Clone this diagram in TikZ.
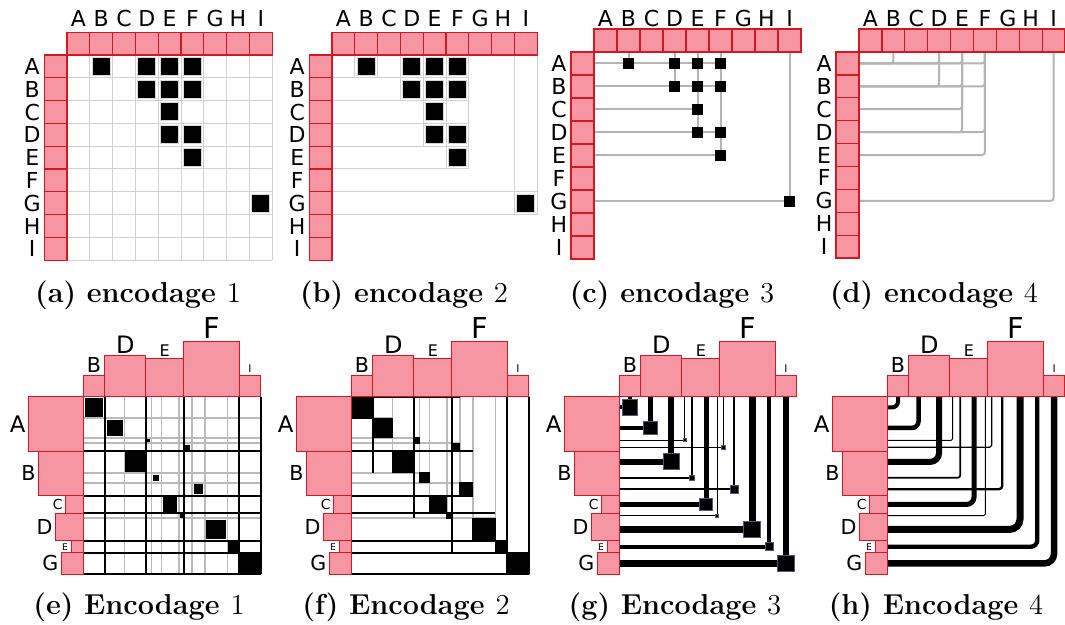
\documentclass[tikz,border=0pt]{standalone}
\usepackage{fontspec}
\newfontfamily\lettersf{DejaVu Sans}

\definecolor{boxfill}{RGB}{246,150,163}
\definecolor{boxline}{RGB}{210,25,35}
\definecolor{lightgrid}{RGB}{208,208,208}
\definecolor{linkgray}{RGB}{180,180,180}
\definecolor{navyedge}{RGB}{85,85,120}

\tikzset{
  pinkbox/.style={fill=boxfill, draw=boxline, line width=0.65pt},
  gridline/.style={draw=lightgrid, line width=0.5pt},
  linkline/.style={draw=linkgray, line width=1pt},
  cellsq/.style={fill=black, draw=black!15, line width=0.5pt},
  subline/.style={draw=black!27, line width=0.8pt},
  blockline/.style={draw=black, line width=0.95pt},
  navysq/.style={fill=black, draw=navyedge, line width=0.5pt},
  toplabel/.style={font=\lettersf\fontsize{11}{13}\selectfont, inner sep=0pt},
  sizelabel/.style={inner sep=0pt},
  caption/.style={font=\fontsize{14.4}{17}\selectfont\bfseries}
}

% links of the 9x9 matrix (row/column)
\def\toplinks{1/2,1/4,1/5,1/6,2/4,2/5,2/6,3/5,4/5,4/6,5/6,7/9}
% links of the weighted matrix: row offset/column offset/weight/width/square
\def\botlinks{0/0/21.5/2pt/15.7, 21.5/21.5/19.5/2.25pt/13.3, 41/62.5/5.5/0.5pt/3,
  46.5/100.5/8/0.65pt/4, 54.5/41/21.5/3pt/16, 76/68/10/0.85pt/5, 86/108.5/13/1.15pt/8,
  99/78/17.5/2.5pt/12.3, 116.5/95.5/5/0.5pt/3, 121.5/121.5/22.5/3.5pt/16.3,
  144/144/12/2.15pt/8.3, 156/156/21.5/3.25pt/16.7}

% pink boxes and letters of one 9x9 panel: name, cell, baseline of the letters
\newcommand{\topframe}[3]{%
  \foreach \l [count=\n] in {A,B,C,D,E,F,G,H,I} {
    \draw[pinkbox] ({(\n-1)*#2},{-#2}) rectangle ({\n*#2},0);
    \draw[pinkbox] ({-#2},{(\n-1)*#2}) rectangle (0,{\n*#2});
    \node[toplabel, anchor=base] (#1c\l) at ({(\n-0.5)*#2},#3) {\l};
    \node[toplabel] (#1r\l) at ({-#2-12},{(\n-0.5)*#2}) {\l};
  }}

% pink boxes and letters of one weighted panel
\newcommand{\botframe}[1]{%
  \foreach \l/\pos/\sz/\fs in {B/0/21.5/10.3, D/21.5/41/12, E/62.5/38/8, F/100.5/55.5/14.4, I/156/21.5/5.3} {
    \draw[pinkbox] (\pos,{-\sz}) rectangle ({\pos+\sz},0);
    \node[sizelabel, font=\lettersf\fontsize{\fs}{\fs}\selectfont, anchor=base] (#1c\l) at ({\pos+\sz/2},{-\sz-2.5}) {\l};
  }
  \foreach \l/\pos/\sz/\fs in {A/0/54.5/11.4, B/54.5/44.5/10.3, C/99/17.5/6.9, D/116.5/27.5/10.3, E/144/12/4.6, G/156/21.5/10.3} {
    \draw[pinkbox] ({-\sz},\pos) rectangle (0,{\pos+\sz});
    \node[sizelabel, font=\lettersf\fontsize{\fs}{\fs}\selectfont, anchor=east] (#1r\l) at ({-\sz-3},{\pos+\sz/2}) {\l};
  }}

\begin{document}
\begin{tikzpicture}[x=0.5pt, y=-0.5pt]
\useasboundingbox (0,0) rectangle (1065,625);

% (a) full grid
\begin{scope}[shift={(67,55)}]
  \foreach \n in {0,...,9} {
    \draw[gridline] ({\n*22.8},0) -- ({\n*22.8},205.2);
    \draw[gridline] (0,{\n*22.8}) -- (205.2,{\n*22.8});
  }
  \foreach \ro/\co in \toplinks
    \draw[cellsq] ({(\co-0.5)*22.8-9},{(\ro-0.5)*22.8-9}) rectangle +(18,18);
  \topframe{a}{22.8}{-28}
\end{scope}

% (b) grid cut at the last link
\begin{scope}[shift={(332,55)}]
  \foreach \ro/\co in {1/6,2/6,3/5,4/6,5/6,7/9}
    \draw[gridline] (0,{(\ro-1)*22.8}) rectangle ({\co*22.8},{\ro*22.8});
  \foreach \co/\ro in {2/1,4/2,5/4,6/5,9/7}
    \draw[gridline] ({(\co-1)*22.8},0) rectangle ({\co*22.8},{\ro*22.8});
  \foreach \ro/\co in \toplinks
    \draw[cellsq] ({(\co-0.5)*22.8-9},{(\ro-0.5)*22.8-9}) rectangle +(18,18);
  \topframe{b}{22.8}{-28}
\end{scope}

% (c) lines and dots
\begin{scope}[shift={(594,52)}]
  \foreach \ro/\co in {1/6,2/6,3/5,4/6,5/6,7/9}
    \draw[linkline] (0,{(\ro-0.5)*23}) -- ({(\co-0.5)*23},{(\ro-0.5)*23});
  \foreach \co/\ro in {2/1,4/2,5/4,6/5,9/7}
    \draw[linkline] ({(\co-0.5)*23},0) -- ({(\co-0.5)*23},{(\ro-0.5)*23});
  \foreach \ro/\co in \toplinks
    \fill ({(\co-0.5)*23-5.25},{(\ro-0.5)*23-5.25}) rectangle +(10.5,10.5);
  \topframe{c}{23}{-25}
\end{scope}

% (d) rounded links
\begin{scope}[shift={(859,52)}]
  \foreach \ro/\co in \toplinks
    \draw[linkline, rounded corners=1.5pt] (0,{(\ro-0.5)*22.9}) -- ({(\co-0.5)*22.9},{(\ro-0.5)*22.9}) -- ({(\co-0.5)*22.9},0);
  \topframe{d}{22.9}{-25}
\end{scope}

% (e) weighted full grid
\begin{scope}[shift={(83.3,396.7)}]
  \foreach \val in {21.5,41,46.5,76,86,121.5}
    \draw[subline] (0,\val) -- (177.5,\val);
  \foreach \val in {41,68,78,95.5,108.5,121.5,144}
    \draw[subline] (\val,0) -- (\val,177.5);
  \foreach \val in {54.5,99,116.5,144,156,177.5}
    \draw[blockline] (0,\val) -- (177.5,\val);
  \foreach \val in {21.5,62.5,100.5,156,177.5}
    \draw[blockline] (\val,0) -- (\val,177.5);
  \foreach \ry/\cx/\w/\lw/\s in \botlinks
    \fill ({\cx+\w/2-0.6*\s},{\ry+\w/2-0.6*\s}) rectangle +({1.2*\s},{1.2*\s});
  \botframe{e}
\end{scope}

% (f) weighted grid cut at the last link
\begin{scope}[shift={(351.3,396.7)}]
  \foreach \ry/\cx/\w/\lw/\s in \botlinks
    \draw[subline] (0,\ry) rectangle ({\cx+\w},{\ry+\w}) (\cx,0) rectangle ({\cx+\w},{\ry+\w});
  \foreach \ya/\yb/\ye in {0/54.5/108.5, 54.5/99/121.5, 99/116.5/95.5, 116.5/144/144, 144/156/156, 156/177.5/177.5}
    \draw[blockline] (0,\ya) -- (\ye,\ya) (0,\yb) -- (\ye,\yb);
  \foreach \xa/\xb/\ye in {0/21.5/21.5, 21.5/62.5/76, 62.5/100.5/121.5, 100.5/156/156, 156/177.5/177.5}
    \draw[blockline] (\xa,0) -- (\xa,\ye) (\xb,0) -- (\xb,\ye);
  \foreach \ry/\cx/\w/\lw/\s in \botlinks
    \draw[fill=black, line width=0.5pt] (\cx,\ry) rectangle +(\w,\w);
  \botframe{f}
\end{scope}

% (g) weighted lines and squares
\begin{scope}[shift={(619.3,396.7)}]
  \foreach \ry/\cx/\w/\lw/\s in \botlinks {
    \draw[line width=\lw] (0,{\ry+\w/2}) -- ({\cx+\w/2},{\ry+\w/2});
    \draw[line width=\lw] ({\cx+\w/2},0) -- ({\cx+\w/2},{\ry+\w/2});
  }
  \foreach \ry/\cx/\w/\lw/\s in \botlinks
    \draw[navysq] ({\cx+\w/2-\s/2},{\ry+\w/2-\s/2}) rectangle +(\s,\s);
  \botframe{g}
\end{scope}

% (h) weighted rounded links
\begin{scope}[shift={(887.3,396.7)}]
  \foreach \ry/\cx/\w/\lw/\s in \botlinks
    \draw[line width=\lw, rounded corners={1.5*\lw}] (0,{\ry+\w/2}) -- ({\cx+\w/2},{\ry+\w/2}) -- ({\cx+\w/2},0);
  \botframe{h}
\end{scope}

% captions
\node[caption] (capa) at (138,295) {(a) encodage $1$};
\node[caption] (capb) at (404,295) {(b) encodage $2$};
\node[caption] (capc) at (672,295) {(c) encodage $3$};
\node[caption] (capd) at (934,295) {(d) encodage $4$};
\node[caption] (cape) at (139,607) {(e) Encodage $1$};
\node[caption] (capf) at (406,607) {(f) Encodage $2$};
\node[caption] (capg) at (675,607) {(g) Encodage $3$};
\node[caption] (caph) at (936,607) {(h) Encodage $4$};
\end{tikzpicture}
\end{document}
